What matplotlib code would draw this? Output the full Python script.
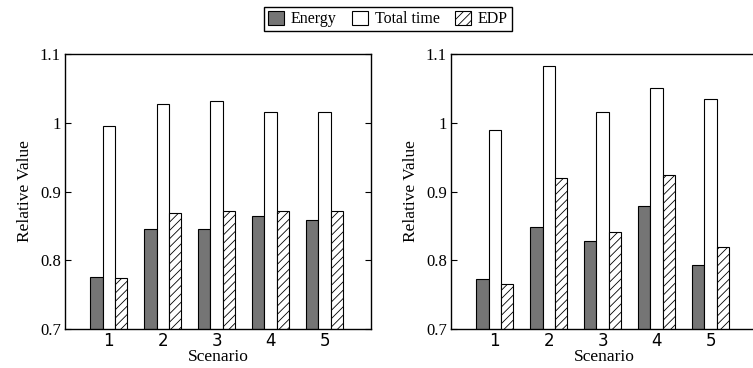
import numpy as np
import matplotlib.pyplot as plt

scenarios = ['1', '2', '3', '4', '5']

energy_a = [0.776, 0.845, 0.846, 0.864, 0.858]
time_a = [0.996, 1.027, 1.031, 1.016, 1.016]
edp_a = [0.774, 0.869, 0.872, 0.872, 0.872]

energy_b = [0.772, 0.849, 0.828, 0.879, 0.793]
time_b = [0.990, 1.082, 1.015, 1.050, 1.034]
edp_b = [0.765, 0.919, 0.841, 0.924, 0.820]

yticks = [0.7, 0.8, 0.9, 1.0, 1.1]
ytick_labels = ['0.7', '0.8', '0.9', '1', '1.1']

plt.rcParams['hatch.linewidth'] = 0.6
serif = 'Liberation Serif'

fig = plt.figure(figsize=(7.53, 3.68), dpi=100)
ax1 = fig.add_axes([65 / 753, 39 / 368, 306 / 753, 275 / 368])
ax2 = fig.add_axes([451 / 753, 39 / 368, 306 / 753, 275 / 368])

def graficar(ax, energy, ttime, edp, derecha=True):
    x = np.arange(1, len(scenarios) + 1)
    w = 0.228
    b1 = ax.bar(x - w, energy, w, color='#757575', edgecolor='black', linewidth=0.8, label='Energy')
    b2 = ax.bar(x, ttime, w, color='white', edgecolor='black', linewidth=0.8, label='Total time')
    b3 = ax.bar(x + w, edp, w, color='white', edgecolor='black', hatch='////', linewidth=0.8, label='EDP')
    ax.set_ylim(0.7, 1.1)
    ax.set_xlim(0.19, 5.86)
    ax.set_yticks(yticks)
    ax.set_yticklabels(ytick_labels, fontname=serif, fontsize=12)
    ax.set_xticks(x)
    ax.set_xticklabels(scenarios, fontname='DejaVu Sans', fontsize=12)
    ax.tick_params(axis='x', length=0, pad=2)
    ax.tick_params(axis='y', direction='in', left=True, right=derecha, length=4, pad=3)
    ax.set_ylabel('Relative Value', fontname=serif, fontsize=12.5, labelpad=5)
    ax.set_xlabel('Scenario', fontname=serif, fontsize=12.5, labelpad=-0.5)
    for s in ax.spines.values():
        s.set_linewidth(1.0)
    return b1, b2, b3

handles = graficar(ax1, energy_a, time_a, edp_a)
graficar(ax2, energy_b, time_b, edp_b, derecha=False)

fig.legend(handles, ['Energy', 'Total time', 'EDP'], loc='center', bbox_to_anchor=(388 / 753, 1 - 19 / 368),
           ncol=3, frameon=True, fancybox=False, edgecolor='black', framealpha=1,
           prop={'family': serif, 'size': 11.5}, handlelength=1.0, handleheight=1.0,
           handletextpad=0.4, columnspacing=1.0, borderpad=0.25)

fig.savefig('out.png', dpi=100)
